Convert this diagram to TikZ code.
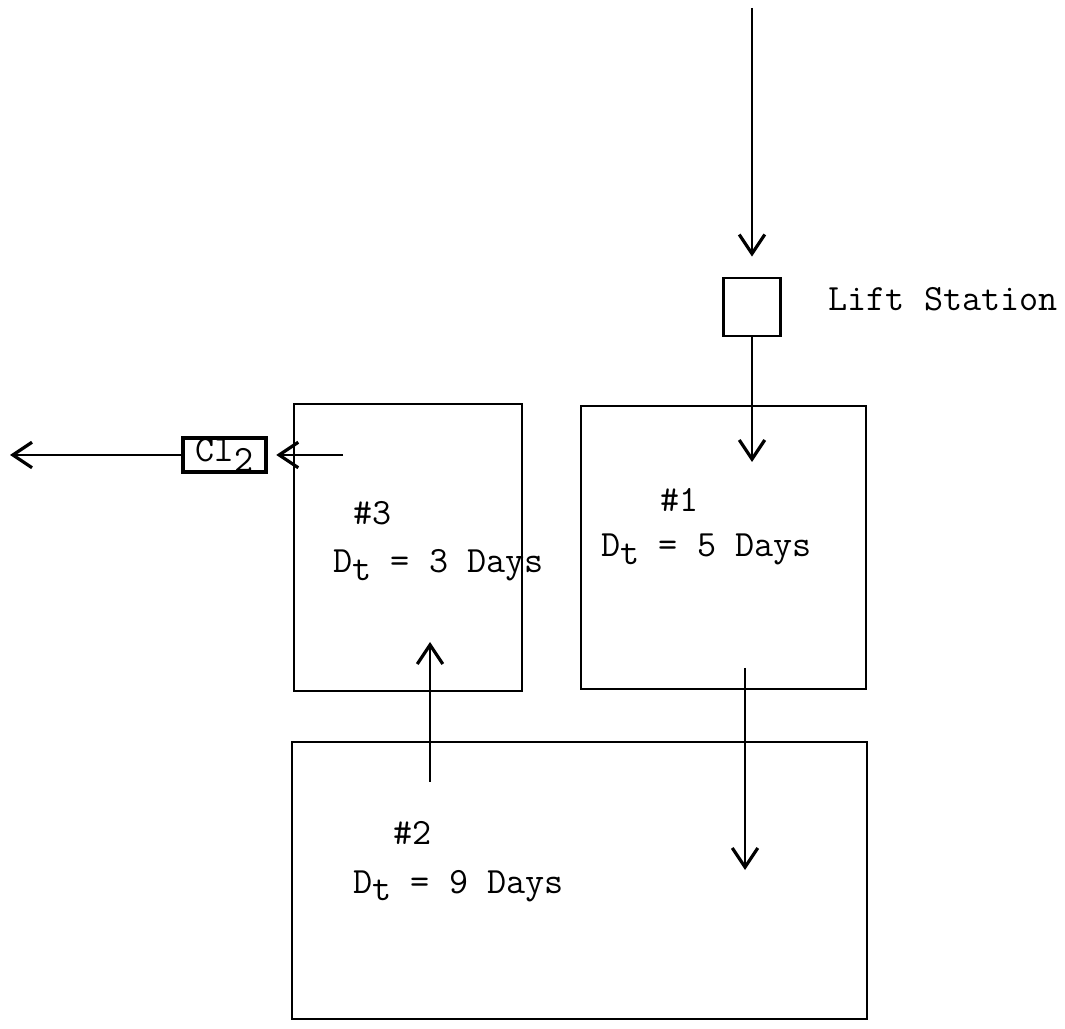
\documentclass[tikz,border=0pt]{standalone}
\usetikzlibrary{arrows.meta, positioning}

\begin{document}
\begin{tikzpicture}[x=0.011cm, y=-0.011cm,
    font=\fontsize{11.6}{13}\selectfont\ttfamily,
    tank/.style={draw, line width=0.9pt, inner sep=0pt},
    flow/.style={line width=0.9pt, -{Straight Barb[length=6pt, width=8pt, line width=1pt]}},
    tanktext/.style={anchor=base west, inner sep=0pt}]

    \useasboundingbox (0,0) rectangle (1065,1029);

    % === Lift station ===
    \node[tank, minimum width=0.627cm, minimum height=0.638cm] (lift) at (752,307) {};
    \node[tanktext] (liftlabel) at (828,311) {Lift Station};

    % === Ponds ===
    \node[tank, minimum width=3.135cm, minimum height=3.113cm] (pond1) at (723.5,547.5) {};
    \node[tank, minimum width=2.508cm, minimum height=3.157cm] (pond3) at (408,547.5) {};
    \node[tank, minimum width=6.325cm, minimum height=3.047cm] (pond2) at (579.5,880.5) {};

    % Labels
    \node[tanktext] (num1) at (660,512) {\#1};
    \node[tanktext] (dt1) at (601,557) {D\raisebox{-2.5pt}{t} = 5 Days};
    \node[tanktext] (num3) at (353,525) {\#3};
    \node[tanktext] (dt3) at (333,573) {D\raisebox{-2.5pt}{t} = 3 Days};
    \node[tanktext] (num2) at (393,845) {\#2};
    \node[tanktext] (dt2) at (353,893) {D\raisebox{-2.5pt}{t} = 9 Days};

    % === Chlorination ===
    \node[draw, line width=1.3pt, inner sep=0pt, minimum width=0.913cm, minimum height=0.374cm] (cl) at (224.5,455) {Cl\raisebox{-3pt}{2}};

    % === Flow path ===
    \coordinate (intake) at (752,8);
    \coordinate (in1) at (752,462);
    \coordinate (drop1) at (745,668);
    \coordinate (in2) at (745,870);
    \coordinate (rise2) at (430,782);
    \coordinate (rise3) at (430,642);
    \coordinate (out3) at (343,455);
    \coordinate (outfall) at (10,455);

    \draw[flow, shorten >=0.22cm] (intake) -- (lift.north);
    \draw[flow] (lift.south) -- (in1);
    \draw[flow] (drop1) -- (in2);
    \draw[flow] (rise2) -- (rise3);
    \draw[flow, shorten >=0.09cm] (out3) -- (cl.east);
    \draw[flow] (cl.west) -- (outfall);

\end{tikzpicture}
\end{document}
